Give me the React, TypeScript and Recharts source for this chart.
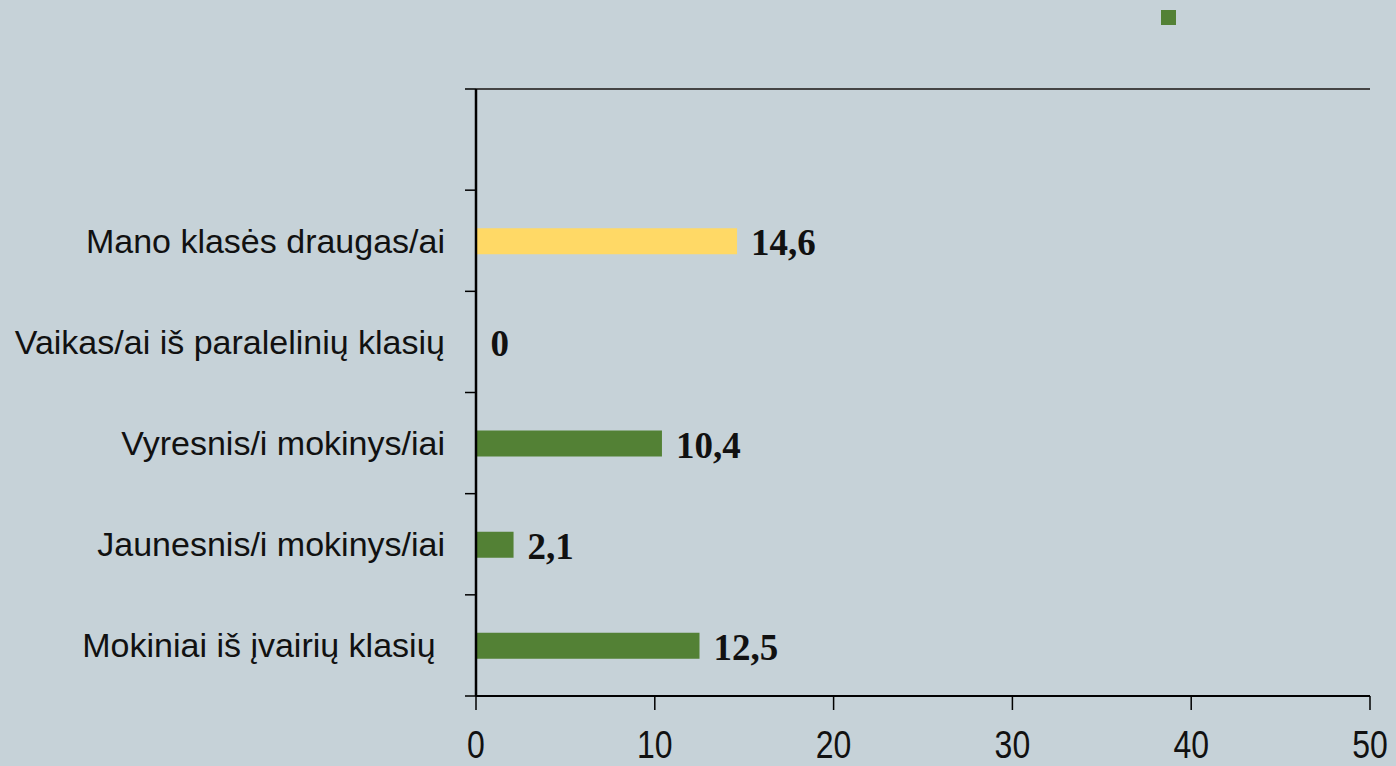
import { BarChart, Bar, XAxis, YAxis, Cell, LabelList, Legend } from "recharts";

const categories = [
  "",
  "Mano klasės draugas/ai",
  "Vaikas/ai iš paralelinių klasių",
  "Vyresnis/i mokinys/iai",
  "Jaunesnis/i mokinys/iai",
  "Mokiniai iš įvairių klasių ",
];
const values: (number | null)[] = [null, 14.6, 0, 10.4, 2.1, 12.5];
const highlighted = ["Mano klasės draugas/ai"];
const xTicks = [0, 10, 20, 30, 40, 50];

const data = categories.map((name, i) => ({ name, value: values[i] }));

const BG = "#c6d2d8";
const GREEN = "#538135";
const YELLOW = "#ffd966";

const WIDTH = 1396;
const HEIGHT = 766;
const PLOT_LEFT = 476;
const PLOT_TOP = 89;
const PLOT_BOTTOM = 696;
const PLOT_RIGHT = 1370;
const BAND = (PLOT_BOTTOM - PLOT_TOP) / categories.length;

function CategoryTick(props: any) {
  const { y, payload, index } = props;
  const half = BAND / 2;
  return (
    <g>
      <line
        x1={PLOT_LEFT - 11}
        x2={PLOT_LEFT}
        y1={y - half}
        y2={y - half}
        stroke="#000"
        strokeWidth={1.5}
      />
      {index === categories.length - 1 && (
        <line
          x1={PLOT_LEFT - 11}
          x2={PLOT_LEFT}
          y1={y + half}
          y2={y + half}
          stroke="#000"
          strokeWidth={1.5}
        />
      )}
      <text
        x={PLOT_LEFT - 31}
        y={y + 12}
        textAnchor="end"
        fontFamily="'Liberation Sans', Arial, sans-serif"
        fontSize={34}
        fill="#111"
        style={{ whiteSpace: "pre" }}
      >
        {payload.value}
      </text>
    </g>
  );
}

function ValueTick(props: any) {
  const { x, payload } = props;
  return (
    <text
      transform={`translate(${x},${PLOT_BOTTOM + 61.5}) scale(0.82,1)`}
      textAnchor="middle"
      fontFamily="'Liberation Sans', Arial, sans-serif"
      fontSize={39}
      fill="#111"
    >
      {payload.value}
    </text>
  );
}

function ValueLabel(props: any) {
  const { x, y, width, height, value } = props;
  if (value === null || value === undefined) return null;
  return (
    <text
      x={PLOT_LEFT + Math.max(Number(x) + Number(width || 0) - PLOT_LEFT, 0) + 14}
      y={Number(y) + Number(height) / 2 + 14}
      fill="#111"
      fontSize={37}
      fontWeight="bold"
      fontFamily="'Liberation Serif', 'Times New Roman', serif"
    >
      {String(value).replace(".", ",")}
    </text>
  );
}

export default function App() {
  return (
    <div
      style={{
        position: "absolute",
        left: 0,
        top: 0,
        width: WIDTH,
        height: HEIGHT,
        background: BG,
      }}
    >
      <BarChart
        width={WIDTH}
        height={HEIGHT}
        data={data}
        layout="vertical"
        margin={{
          top: PLOT_TOP - 1,
          right: WIDTH - PLOT_RIGHT,
          bottom: 0,
          left: 0,
        }}
        barCategoryGap={0}
      >
        <Legend
          layout="horizontal"
          verticalAlign="middle"
          align="center"
          wrapperStyle={{ position: "absolute", left: 1161, top: 10, width: 15, height: 15 }}
          content={() => (
            <div style={{ width: 15, height: 15, background: GREEN }} />
          )}
        />
        <XAxis
          type="number"
          domain={[0, 50]}
          ticks={xTicks}
          interval={0}
          height={HEIGHT - PLOT_BOTTOM}
          tickSize={14}
          tickLine={{ stroke: "#000", strokeWidth: 1.5 }}
          axisLine={{ stroke: "#000", strokeWidth: 2 }}
          tick={<ValueTick />}
        />
        <XAxis
          xAxisId="top"
          orientation="top"
          type="number"
          domain={[0, 50]}
          height={1}
          tick={false}
          axisLine={{ stroke: "#444", strokeWidth: 2 }}
        />
        <YAxis
          type="category"
          dataKey="name"
          width={PLOT_LEFT}
          interval={0}
          tickLine={false}
          axisLine={{ stroke: "#000", strokeWidth: 2.5 }}
          tick={<CategoryTick />}
        />
        <YAxis
          yAxisId="right"
          orientation="right"
          type="number"
          domain={[0, 1]}
          width={0}
          tick={false}
          axisLine={{ stroke: "#000", strokeWidth: 1 }}
        />
        <Bar dataKey="value" barSize={26} minPointSize={0.5} isAnimationActive={false}>
          {data.map((d) => (
            <Cell
              key={d.name || "empty"}
              fill={highlighted.includes(d.name) ? YELLOW : GREEN}
            />
          ))}
          <LabelList dataKey="value" content={<ValueLabel />} />
        </Bar>
      </BarChart>
    </div>
  );
}
